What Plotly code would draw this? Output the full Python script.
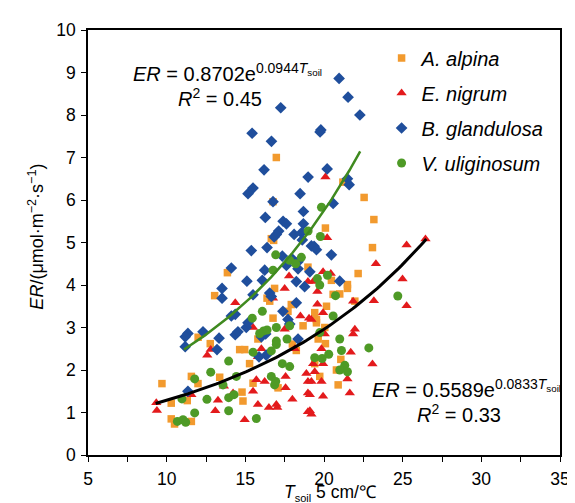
import numpy as np
import plotly.graph_objects as go

# ---------------- data ----------------
alpina_x = [16.97, 22.55, 23.17, 20.09, 16.76, 21.2, 16.8, 13.86, 13.05, 12.0, 12.77, 14.64, 14.96,
            9.7, 11.57, 11.99, 13.37, 14.79, 10.29, 11.31, 14.85, 10.29, 10.5, 11.57, 16.65, 18.98,
            16.86, 16.38, 16.55, 17.92, 16.76, 18.67, 15.8, 15.27, 15.49, 17.08, 17.99, 18.24, 17.71,
            22.17, 21.49, 21.49, 20.47, 20.58, 21.0, 21.96, 20.16, 19.41, 19.52, 19.52, 20.05, 19.63,
            20.09, 19.41, 21.07, 20.79, 19.73, 20.9, 23.08]
alpina_y = [7.0, 6.06, 5.54, 5.34, 5.96, 6.42, 5.05, 4.29, 3.75, 2.77, 2.62, 2.48, 2.48,
            1.68, 1.85, 1.68, 1.83, 1.48, 1.22, 1.28, 1.27, 0.85, 0.73, 0.79, 5.09, 4.42,
            3.92, 3.69, 3.62, 3.54, 3.22, 3.04, 2.73, 2.15, 1.69, 1.58, 2.61, 2.46, 3.38,
            4.27, 4.01, 3.92, 4.11, 3.78, 3.79, 3.62, 3.5, 3.35, 3.19, 3.11, 3.0, 2.73,
            2.62, 2.15, 2.25, 2.0, 1.85, 1.65, 4.88]

nigrum_x = [20.09, 20.2, 26.45, 14.36, 12.58, 12.8, 9.34, 9.38, 11.57, 13.64, 14.22, 13.26, 13.09,
            14.96, 17.78, 17.5, 18.98, 16.76, 18.5, 19.05, 15.49, 17.5, 18.14, 16.02, 15.8, 15.7,
            16.23, 17.56, 17.56, 15.49, 18.88, 18.98, 18.98, 17.99, 15.8, 16.5, 16.97, 17.03, 18.98,
            19.94, 20.43, 19.31, 19.58, 19.58, 19.94, 19.2, 21.85, 21.96, 21.85, 20.05, 19.84, 21.7,
            19.31, 19.94, 19.41, 19.2, 19.84, 21.49, 21.64, 19.94, 19.1, 19.1, 19.2, 25.25, 23.3,
            24.99, 23.17, 25.25, 23.08]
nigrum_y = [6.54, 5.11, 5.08, 3.58, 2.35, 2.48, 1.23, 1.05, 1.42, 1.62, 1.46, 1.29, 1.04,
            0.83, 4.21, 3.92, 4.08, 3.69, 3.27, 3.22, 3.0, 2.96, 2.5, 2.5, 2.31, 1.77,
            1.73, 1.85, 1.58, 1.5, 1.92, 1.73, 1.46, 1.31, 1.19, 1.12, 1.19, 1.12, 1.02,
            4.31, 4.27, 4.08, 3.85, 3.55, 3.35, 3.19, 3.62, 2.96, 2.85, 2.85, 2.5, 2.42,
            2.15, 2.15, 1.96, 1.73, 1.73, 1.79, 1.46, 1.38, 1.42, 1.04, 0.96, 4.94, 4.5,
            4.14, 3.63, 3.51, 2.14]

glandulosa_x = [20.96, 21.53, 22.28, 17.25, 15.43, 16.66, 19.8, 19.75, 16.19, 20.2, 18.99, 15.49,
                15.17, 18.48, 21.49, 21.6, 16.76, 20.58, 18.69, 16.27, 17.4, 17.61, 18.69, 17.12,
                16.97, 16.83, 18.1, 18.57, 14.11, 15.1, 13.52, 13.52, 12.31, 11.35, 11.18, 11.18,
                13.33, 14.36, 14.53, 14.11, 14.36, 15.06, 13.2, 11.35, 18.62, 15.38, 16.38, 19.2,
                17.35, 17.99, 18.35, 16.23, 17.61, 18.35, 16.08, 18.24, 18.77, 16.55, 16.65, 18.24,
                17.39, 17.71, 17.82, 15.17, 16.29, 16.02, 18.35, 16.33, 15.87, 15.49, 19.37, 19.52,
                20.47, 19.1, 21.0]
glandulosa_y = [8.86, 8.42, 8.0, 8.17, 7.57, 7.38, 7.65, 7.6, 6.71, 6.73, 6.54, 6.28,
                6.15, 6.15, 6.5, 6.36, 5.96, 5.92, 5.73, 5.59, 5.5, 5.44, 5.44, 5.27,
                5.19, 5.13, 5.19, 5.23, 4.4, 4.09, 3.92, 3.69, 2.9, 2.86, 2.78, 2.55,
                2.75, 2.83, 2.9, 3.27, 3.31, 3.0, 2.48, 1.5, 5.06, 4.81, 4.88, 4.92,
                4.68, 4.61, 4.55, 4.35, 4.46, 4.38, 4.11, 4.08, 3.96, 3.81, 3.73, 3.58,
                3.38, 3.19, 3.08, 3.11, 2.85, 2.78, 2.73, 2.35, 2.31, 3.77, 4.91, 4.83,
                4.71, 4.31, 4.09]

uliginosum_x = [19.84, 18.99, 19.77, 13.94, 12.8, 11.78, 14.43, 13.58, 10.97, 12.56, 13.94, 14.28,
                11.78, 13.94, 10.68, 11.04, 11.21, 16.93, 17.82, 18.2, 18.56, 16.76, 16.08, 15.44,
                16.16, 16.38, 16.97, 15.91, 17.82, 17.65, 16.97, 16.97, 15.49, 16.65, 17.35, 17.82,
                16.65, 16.86, 16.93, 15.7, 19.58, 19.73, 20.22, 20.73, 20.58, 19.73, 21.0, 21.11,
                19.41, 19.88, 20.3, 21.32, 21.0, 21.49, 22.85, 24.69]
uliginosum_y = [5.83, 5.27, 5.14, 2.21, 1.95, 1.79, 1.85, 1.65, 1.32, 1.31, 1.35, 1.42,
                0.99, 1.04, 0.79, 0.83, 0.77, 4.71, 4.58, 4.5, 4.65, 4.35, 3.38, 3.22,
                2.92, 2.94, 3.0, 2.86, 3.04, 2.73, 2.68, 2.6, 2.42, 2.45, 2.15, 2.08,
                1.85, 1.65, 1.73, 0.86, 4.15, 4.0, 4.23, 3.75, 3.27, 2.88, 2.73, 2.46,
                2.29, 2.27, 2.37, 2.11, 2.0, 1.96, 2.52, 3.74]

# fitted exponential models printed on the chart: ER = a * exp(b * T)
fit_upper = dict(a=0.8702, b=0.0944, r2=0.45, tmin=11.1, tmax=22.3)
fit_lower = dict(a=0.5589, b=0.0833, r2=0.33, tmin=9.3, tmax=26.5)

x_ticks = [5, 10, 15, 20, 25, 30, 35]
y_ticks = list(range(0, 11))

# ---------------- styling ----------------
FONT = "Arial, 'Liberation Sans', sans-serif"
ORANGE = "#f29a2e"
RED = "#e31a1c"
BLUE = "#1f4e9c"
GREEN = "#4e9a26"
GREEN_LINE = "#3f8a1f"

fig = go.Figure()

series = [
    ("<i>A. alpina</i>", alpina_x, alpina_y, "square", ORANGE, 7.5),
    ("<i>E. nigrum</i>", nigrum_x, nigrum_y, "triangle-up", RED, 9),
    ("<i>B. glandulosa</i>", glandulosa_x, glandulosa_y, "diamond", BLUE, 9),
    ("<i>V. uliginosum</i>", uliginosum_x, uliginosum_y, "circle", GREEN, 9),
]
for i, (name, xs, ys, sym, col, sz) in enumerate(series):
    fig.add_trace(go.Scatter(
        x=xs, y=ys, mode="markers", name=name, legendgroup=f"g{i}",
        marker=dict(symbol=sym, color=col, size=sz, line=dict(width=0)),
    ))

for fit, col, w in [(fit_upper, GREEN_LINE, 2.5), (fit_lower, "black", 3)]:
    t = np.linspace(fit["tmin"], fit["tmax"], 100)
    fig.add_trace(go.Scatter(
        x=t, y=fit["a"] * np.exp(fit["b"] * t), mode="lines",
        line=dict(color=col, width=w), showlegend=False, hoverinfo="skip",
    ))

eq_font = dict(family=FONT, size=20, color="black")
annotations = [
    dict(x=7.74, y=9.0, xanchor="left", yanchor="middle",
         text=f"<i>ER</i> = {fit_upper['a']:.4f}e<sup>{fit_upper['b']:.4f}<i>T</i><sub>soil</sub></sup>"),
    dict(x=10.61, y=8.41, xanchor="left", yanchor="middle",
         text=f"<i>R</i><sup>2</sup> = {fit_upper['r2']:.2f}"),
    dict(x=22.91, y=1.57, xanchor="left", yanchor="middle",
         text=f"<i>ER</i> = {fit_lower['a']:.4f}e<sup>{fit_lower['b']:.4f}<i>T</i><sub>soil</sub></sup>"),
    dict(x=25.78, y=0.98, xanchor="left", yanchor="middle",
         text=f"<i>R</i><sup>2</sup> = {fit_lower['r2']:.2f}"),
]
for a in annotations:
    fig.add_annotation(xref="x", yref="y", showarrow=False, font=eq_font, **a)

# axis titles
fig.add_annotation(xref="paper", yref="paper", x=0.512, y=-0.089, xanchor="center", yanchor="middle",
                   showarrow=False,
                   text="<i>T</i><sub><span style='font-size:11px'>soil</span></sub> 5 cm/℃",
                   font=dict(family=FONT, size=17.5, color="black"))
fig.add_annotation(xref="paper", yref="paper", x=-0.11, y=0.514, xanchor="center", yanchor="middle",
                   showarrow=False, textangle=-90,
                   text="<i>ER</i>/(μmol·m<sup>−2</sup>·s<sup>−1</sup>)",
                   font=dict(family=FONT, size=18, color="black"))

axis_common = dict(showline=True, linecolor="black", linewidth=1.5, mirror=True,
                   showgrid=False, zeroline=False, ticks="outside", ticklen=5,
                   tickwidth=1, tickcolor="black",
                   tickfont=dict(family=FONT, size=17.5, color="black"))
fig.update_xaxes(range=[5, 35], tickvals=x_ticks, ticktext=[str(v) for v in x_ticks],
                 minor=dict(tick0=5, dtick=2.5, ticks="outside", ticklen=5, tickcolor="black", showgrid=False),
                 ticklabelstandoff=2, **axis_common)
fig.update_yaxes(range=[0, 10], tickvals=y_ticks, ticktext=[str(v) for v in y_ticks],
                 ticklabelstandoff=2, **axis_common)

fig.update_layout(
    width=575, height=503,
    margin=dict(l=80, r=23, t=13, b=56),
    plot_bgcolor="white", paper_bgcolor="white",
    font=dict(family=FONT, color="black"),
    legend=dict(x=0.622, y=0.98, xanchor="left", yanchor="top",
                bgcolor="rgba(0,0,0,0)", font=dict(family=FONT, size=20, color="black"),
                tracegroupgap=6, itemsizing="trace"),
    showlegend=True,
)

fig.write_html("out.html")
